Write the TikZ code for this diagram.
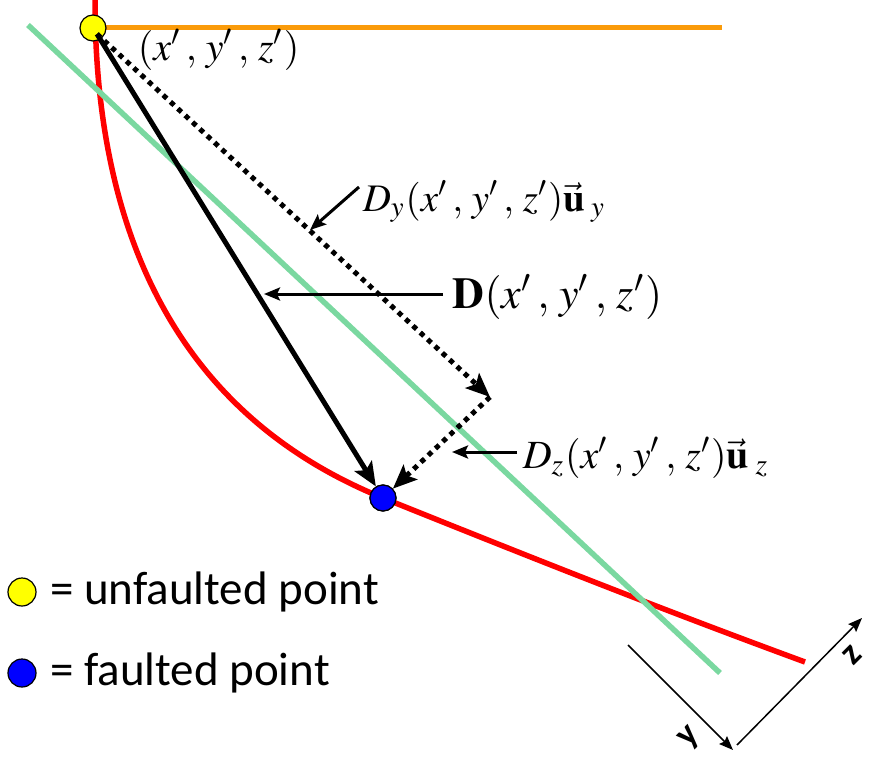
\documentclass[tikz,border=0pt]{standalone}
\usepackage{mathptmx}
\usepackage{fontspec}
\newfontfamily\legendfont{Carlito}
\usetikzlibrary{arrows.meta,calc}
\definecolor{faultred}{RGB}{255,0,0}
\definecolor{planegreen}{RGB}{122,216,160}
\definecolor{surforange}{RGB}{250,155,10}
\definecolor{ptyellow}{RGB}{255,255,0}
\definecolor{ptblue}{RGB}{0,0,255}
\tikzset{
  pt/.style={circle,draw=black,line width=1.2pt,minimum size=26pt,inner sep=0pt},
  mainarrow/.style={line width=5pt,-{Stealth[length=24pt,width=20pt,inset=5pt]}},
  dotarrow/.style={line width=5pt,dash pattern=on 5pt off 5pt,-{Stealth[length=24pt,width=20pt,inset=5pt]}},
  labarrow/.style={line width=3pt,-{Stealth[length=16pt,width=13pt,inset=3pt]}},
  axisarrow/.style={line width=1.5pt,-{Stealth[length=14pt,width=11pt,inset=2pt]}},
  mathlab/.style={inner sep=0pt,anchor=west},
  legendtext/.style={inner sep=0pt,anchor=west,font=\legendfont\fontsize{47}{50}\selectfont},
  axislab/.style={inner sep=0pt,font=\legendfont\bfseries\fontsize{36}{40}\selectfont,rotate=45}
}
\begin{document}
\begin{tikzpicture}[x=1pt,y=-1pt]
\useasboundingbox (0,0) rectangle (870,760);
% fault curve
\draw[faultred,line width=5.5pt] (95,0) .. controls (95,310) and (240,440) .. (383,498)
  .. controls (520,553) and (650,605) .. (805,662);
% plane
\draw[planegreen,line width=5.5pt] (28,25) -- (720,673);
% surface
\draw[surforange,line width=5pt] (93,28) -- (722,28);
% unfaulted point
\node[pt,fill=ptyellow] (u) at (93,28) {};
\coordinate (s) at (97,34);
\coordinate (c) at (490,397);
\node[pt,fill=ptblue] (f) at (383,498) {};
% vectors
\draw[dotarrow] (s) -- (c);
\draw[dotarrow] (c) -- (f);
\draw[mainarrow] (s) -- (f);
\node[pt,fill=ptblue] at (f) {};
% labels
\node[mathlab,scale=4.0] (xyz) at (137,50) {$(x'\,,\,y'\,,\,z')$};
\node[mathlab,scale=3.9] (dy) at (362,202) {$D_y(x'\,,\,y'\,,\,z')\vec{\mathbf{u}}_{\;y}$};
\node[mathlab,scale=4.4] (dd) at (452,297) {$\mathbf{D}(x'\,,\,y'\,,\,z')$};
\node[mathlab,scale=4.0] (dz) at (522,458) {$D_z(x'\,,\,y'\,,\,z')\vec{\mathbf{u}}_{\;z}$};
\coordinate (ty) at (310,230);
\coordinate (td) at (264,294);
\coordinate (tz) at (452,452);
\draw[labarrow] ($(dy.west)+(-3,-15)$) -- (ty);
\draw[labarrow] ($(dd.west)+(-9,-3)$) -- (td);
\draw[labarrow] ($(dz.west)+(-5,-6)$) -- (tz);
% legend
\node[pt,fill=ptyellow,minimum size=28pt] (l1) at (22,592) {};
\node[pt,fill=ptblue,minimum size=28pt] (l2) at (22,673) {};
\node[legendtext] (t1) at (50,592) {= unfaulted point};
\node[legendtext] (t2) at (50,673) {= faulted point};
% axes
\coordinate (ya) at (628,645);
\coordinate (yb) at (733,750);
\coordinate (za) at (737,745);
\coordinate (zb) at (862,618);
\draw[axisarrow] (ya) -- (yb);
\draw[axisarrow] (za) -- (zb);
\node[axislab] (ylab) at (690,738) {y};
\node[axislab] (zlab) at (852,655) {z};
\end{tikzpicture}
\end{document}
